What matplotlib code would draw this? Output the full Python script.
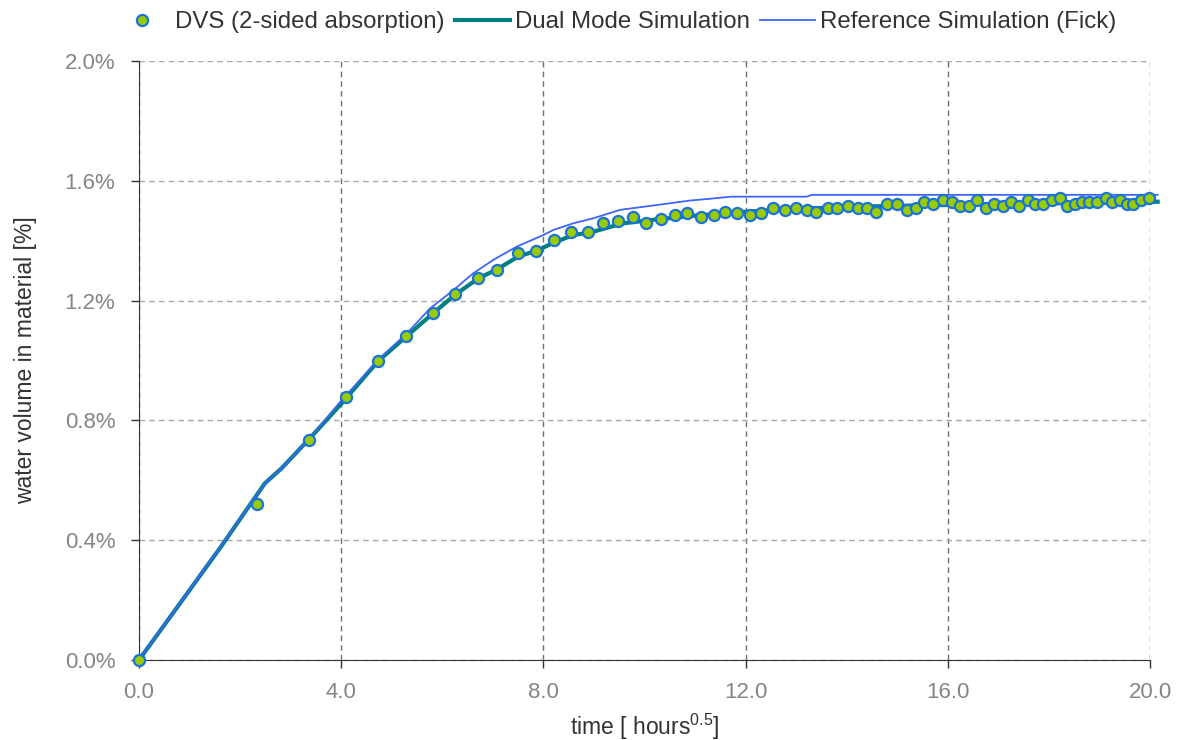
import matplotlib
matplotlib.use('Agg')
import matplotlib.pyplot as plt
from matplotlib.ticker import FuncFormatter

plt.rcParams['font.family'] = ['Liberation Sans', 'DejaVu Sans']
plt.rcParams['mathtext.default'] = 'regular'

# DVS measurement, x in hours^0.5, y in % water volume
dvs_x = [0.00, 2.34, 3.36, 4.10, 4.73, 5.29, 5.81, 6.26, 6.71, 7.08, 7.49, 7.85,
         8.20, 8.54, 8.88, 9.17, 9.47, 9.77, 10.03, 10.33, 10.60, 10.85, 11.12,
         11.37, 11.59, 11.82, 12.09, 12.31, 12.54, 12.77, 12.99, 13.21, 13.40,
         13.62, 13.80, 14.02, 14.22, 14.40, 14.58, 14.80, 15.00, 15.20, 15.37,
         15.53, 15.71, 15.90, 16.08, 16.24, 16.41, 16.58, 16.76, 16.91, 17.09,
         17.25, 17.41, 17.58, 17.73, 17.88, 18.06, 18.21, 18.35, 18.51, 18.65,
         18.80, 18.96, 19.12, 19.25, 19.41, 19.54, 19.67, 19.82, 19.97]
dvs_y = [0.000, 0.520, 0.735, 0.879, 0.999, 1.082, 1.158, 1.221, 1.277, 1.302, 1.358, 1.366,
         1.402, 1.428, 1.428, 1.460, 1.467, 1.478, 1.458, 1.471, 1.485, 1.491, 1.478,
         1.485, 1.497, 1.491, 1.485, 1.491, 1.510, 1.504, 1.510, 1.504, 1.497,
         1.510, 1.510, 1.517, 1.510, 1.510, 1.497, 1.523, 1.523, 1.504, 1.510,
         1.529, 1.523, 1.535, 1.529, 1.516, 1.516, 1.535, 1.510, 1.523, 1.516,
         1.529, 1.516, 1.535, 1.523, 1.523, 1.535, 1.544, 1.516, 1.523, 1.529,
         1.529, 1.529, 1.544, 1.529, 1.535, 1.523, 1.523, 1.535, 1.544]

# Dual mode simulation
dual_x = [0.00, 1.62, 2.49, 2.82, 3.35, 4.01, 4.73, 5.30, 5.82, 6.25, 6.71, 7.08,
          7.50, 7.87, 8.20, 8.59, 8.92, 9.58, 10.24, 10.90, 11.56, 12.02, 12.88,
          13.87, 14.86, 17.29, 20.15]
dual_y = [0.000, 0.378, 0.590, 0.640, 0.735, 0.857, 0.998, 1.082, 1.158, 1.219, 1.274, 1.304,
          1.347, 1.367, 1.393, 1.419, 1.427, 1.458, 1.471, 1.482, 1.491, 1.497, 1.505,
          1.512, 1.516, 1.523, 1.530]

# Reference simulation (Fick)
fick_x = [0.00, 1.62, 2.49, 2.82, 3.35, 3.98, 4.73, 5.30, 5.76, 6.22, 6.61, 7.01,
          7.47, 8.00, 8.20, 8.59, 8.99, 9.52, 10.24, 10.90, 11.23, 11.72, 13.21,
          13.31, 20.15]
fick_y = [0.000, 0.380, 0.590, 0.640, 0.735, 0.862, 1.002, 1.091, 1.174, 1.235, 1.291, 1.336,
          1.380, 1.419, 1.436, 1.458, 1.475, 1.503, 1.519, 1.534, 1.539, 1.547, 1.547,
          1.553, 1.553]

fig = plt.figure(figsize=(11.8, 7.4), dpi=100)
ax = fig.add_axes([0.1178, 0.1081, 0.8568, 0.8095])

ax.plot(dual_x, dual_y, color='#00807f', lw=3, label='Dual Mode Simulation', clip_on=False, zorder=3)
ax.plot(fick_x, fick_y, color='#3d66f5', lw=1.3, label='Reference Simulation (Fick)', clip_on=False, zorder=4)
ax.plot(dvs_x, dvs_y, ls='none', marker='o', ms=8, mfc='#99cc00', mec='#1a73d9', mew=1.6,
        label='DVS (2-sided absorption)', clip_on=False, zorder=5)

ax.set_xlim(0, 20)
ax.set_ylim(0, 2.0)
ax.set_xticks([0, 4, 8, 12, 16, 20])
ax.set_yticks([0, 0.4, 0.8, 1.2, 1.6, 2.0])
ax.xaxis.set_major_formatter(FuncFormatter(lambda v, p: f'{v:.1f}'))
ax.yaxis.set_major_formatter(FuncFormatter(lambda v, p: f'{v:.1f}%'))

ax.yaxis.grid(True, ls=(0, (4, 3)), color='#a8a8a8', lw=1)
ax.xaxis.grid(True, ls=(0, (4, 3)), color='#707070', lw=1)
ax.set_axisbelow(True)

for s in ['top', 'right']:
    ax.spines[s].set_visible(False)
ax.spines['left'].set_color('#333333')
ax.spines['bottom'].set_color('#333333')
ax.tick_params(axis='both', colors='#333333', labelcolor='#858585', labelsize=16, length=6, width=1)
ax.tick_params(axis='x', pad=10)
ax.tick_params(axis='y', pad=11)

ax.set_xlabel('time [ hours$^{0.5}$]', fontsize=16.5, color='#333333', labelpad=6)
ax.set_ylabel('water volume in material [%]', fontsize=16.5, color='#333333', labelpad=20)

h, l = ax.get_legend_handles_labels()
order = [2, 0, 1]
fig.legend([h[i] for i in order], [l[i] for i in order], loc='center left', bbox_to_anchor=(0.079, 0.970),
           ncol=3, frameon=False, fontsize=17.3, handlelength=2.3, handletextpad=0.2,
           columnspacing=0.42, labelcolor='#333333')

fig.savefig('out.png', dpi=100)
